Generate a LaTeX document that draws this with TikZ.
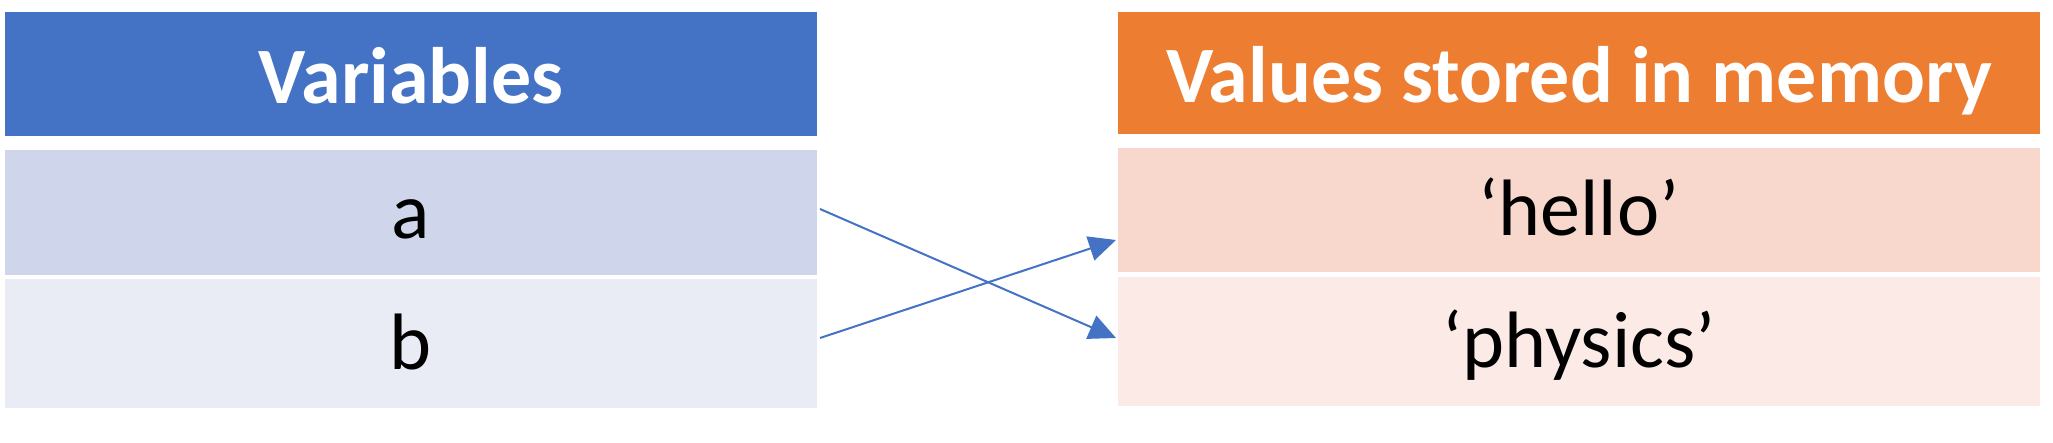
\documentclass[tikz,border=0pt]{standalone}
\usepackage{fontspec}
\setmainfont{Carlito}
\usetikzlibrary{arrows.meta}
\definecolor{hdrblue}{HTML}{4472C4}
\definecolor{hdrorange}{HTML}{ED7D31}
\definecolor{rowblueA}{HTML}{CFD5EA}
\definecolor{rowblueB}{HTML}{E9EBF5}
\definecolor{roworangeA}{HTML}{F8D8CD}
\definecolor{roworangeB}{HTML}{FBEAE6}
\tikzset{
  cell/.style={rectangle, inner sep=0pt, outer sep=0pt, draw=none,
    font=\fontsize{80}{96}\selectfont, text depth=6pt, text height=58pt},
  hdr/.style={cell, text=white, font=\fontsize{80}{96}\selectfont\bfseries,
    text height=65pt},
  link/.style={draw=hdrblue, line width=2pt, -{Triangle[length=27pt,width=25pt]}}
}
\begin{document}
\begin{tikzpicture}[x=1pt,y=-1pt]
\useasboundingbox (0,0) rectangle (2053,443);
\node[hdr, fill=hdrblue, minimum width=812pt, minimum height=124pt] (vh) at (411,74) {Variables};
\node[cell, fill=rowblueA, minimum width=812pt, minimum height=125pt] (a) at (411,212.5) {a};
\node[cell, fill=rowblueB, minimum width=812pt, minimum height=129pt] (b) at (411,343.5) {b};
\node[hdr, fill=hdrorange, minimum width=922pt, minimum height=122pt] (mh) at (1579,73) {Values stored in memory};
\node[cell, fill=roworangeA, minimum width=922pt, minimum height=124pt] (hello) at (1579,210) {‘hello’};
\node[cell, fill=roworangeB, minimum width=922pt, minimum height=129pt] (physics) at (1579,341.5) {‘physics’};
\draw[link] ([xshift=3pt,yshift=3.5pt]a.east) -- ([xshift=-2pt,yshift=3.5pt]physics.west);
\draw[link] ([xshift=3pt,yshift=5.5pt]b.east) -- ([xshift=-2pt,yshift=-30pt]hello.west);
\end{tikzpicture}
\end{document}
